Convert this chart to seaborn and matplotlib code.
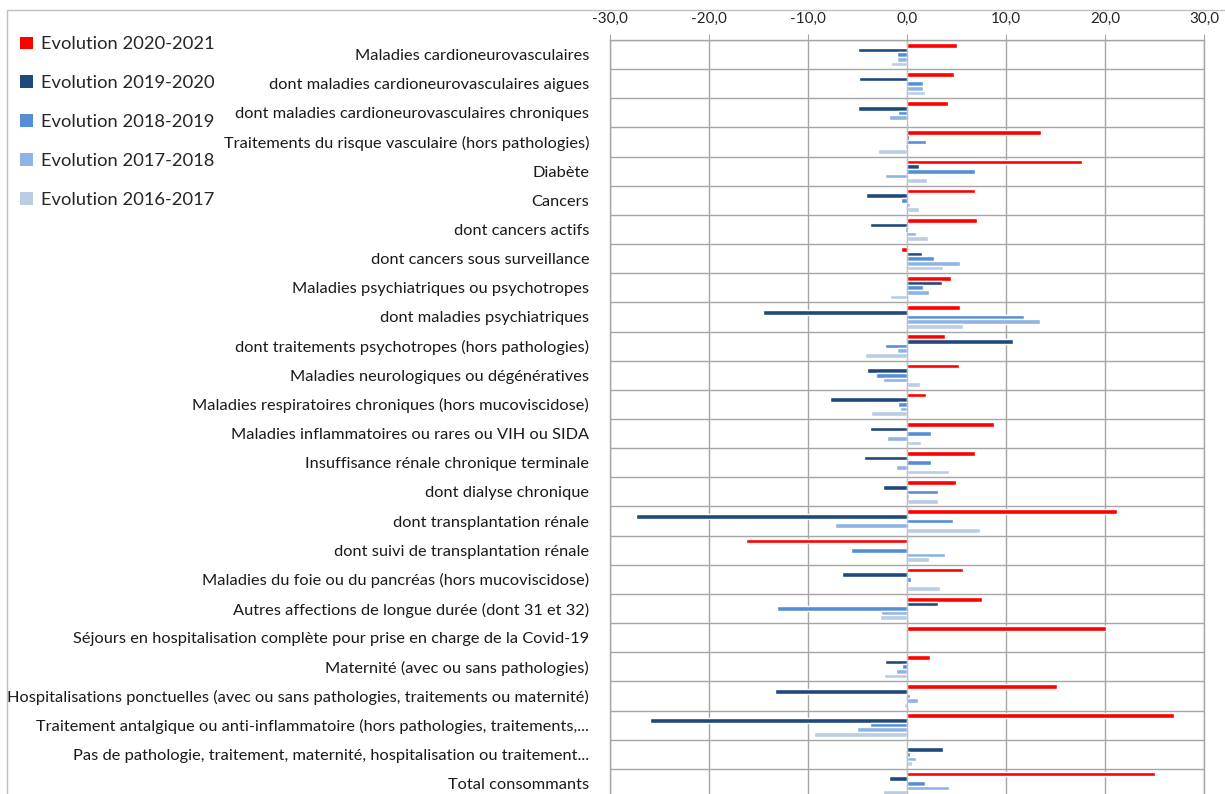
import numpy as np
import pandas as pd
import seaborn as sns
import matplotlib.pyplot as plt
from matplotlib.patches import Rectangle, Patch

# Categories (top to bottom)
categories = [
    "Maladies cardioneurovasculaires",
    "dont maladies cardioneurovasculaires aigues",
    "dont maladies cardioneurovasculaires chroniques",
    "Traitements du risque vasculaire (hors pathologies)",
    "Diabète",
    "Cancers",
    "dont cancers actifs",
    "dont cancers sous surveillance",
    "Maladies psychiatriques ou psychotropes",
    "dont maladies psychiatriques",
    "dont traitements psychotropes (hors pathologies)",
    "Maladies neurologiques ou dégénératives",
    "Maladies respiratoires chroniques (hors mucoviscidose)",
    "Maladies inflammatoires ou rares ou VIH ou SIDA",
    "Insuffisance rénale chronique terminale",
    "dont dialyse chronique",
    "dont transplantation rénale",
    "dont suivi de transplantation rénale",
    "Maladies du foie ou du pancréas (hors mucoviscidose)",
    "Autres affections de longue durée (dont 31 et 32)",
    "Séjours en hospitalisation complète pour prise en charge de la Covid-19",
    "Maternité (avec ou sans pathologies)",
    "Hospitalisations ponctuelles (avec ou sans pathologies, traitements ou maternité)",
    "Traitement antalgique ou anti-inflammatoire (hors pathologies, traitements,...",
    "Pas de pathologie, traitement, maternité, hospitalisation ou traitement...",
    "Total consommants",
]

series = ["Evolution 2020-2021", "Evolution 2019-2020", "Evolution 2018-2019",
          "Evolution 2017-2018", "Evolution 2016-2017"]

evol_2020_2021 = [5.1, 4.7, 4.1, 13.5, 17.7, 6.9, 7.1, -0.6, 4.4, 5.4, 3.8, 5.3, 1.9,
                  8.8, 6.9, 4.9, 21.2, -16.3, 5.7, 7.6, 20.1, 2.3, 15.2, 27.0, 0.0, 25.0]
evol_2019_2020 = [-4.9, -4.8, -4.9, 0.2, 1.2, -4.1, -3.7, 1.5, 3.5, -14.5, 10.7, -4.0, -7.8,
                  -3.7, -4.3, -2.4, -27.4, 0.0, -6.6, 3.1, np.nan, -2.2, -13.3, -26.0, 3.6, -1.8]
evol_2018_2019 = [-1.0, 1.6, -0.9, 1.9, 6.9, -0.6, -0.2, 2.7, 1.6, 11.8, -2.2, -3.1, -0.9,
                  2.4, 2.4, 3.1, 4.6, -5.7, 0.4, -13.1, np.nan, -0.5, 0.3, -3.7, 0.3, 1.8]
evol_2017_2018 = [-1.0, 1.6, -1.8, -0.2, -2.2, 0.3, 0.9, 5.4, 2.2, 13.4, -1.0, -2.4, -0.7,
                  -2.0, -1.1, 0.2, -7.3, 3.8, 0.0, -2.6, np.nan, -1.1, 1.1, -5.1, 0.9, 4.2]
evol_2016_2017 = [-1.6, 1.8, -0.1, -2.9, 2.0, 1.2, 2.1, 3.6, -1.7, 5.7, -4.2, 1.3, -3.6,
                  1.4, 4.2, 3.1, 7.4, 2.2, 3.3, -2.7, np.nan, -2.3, -0.3, -9.4, 0.5, -2.4]

colors = ["#FF0000", "#1F497D", "#558ED5", "#8EB4E3", "#B9CDE5"]

values = [evol_2020_2021, evol_2019_2020, evol_2018_2019, evol_2017_2018, evol_2016_2017]
rows = []
for name, vals in zip(series, values):
    for cat, v in zip(categories, vals):
        rows.append({"categorie": cat, "serie": name, "valeur": v})
df = pd.DataFrame(rows)

sns.set_style("white")
plt.rcParams['font.family'] = ['Lato', 'DejaVu Sans']

fig = plt.figure(figsize=(12.25, 7.94), dpi=100)
ax = fig.add_axes([610 / 1225, -4 / 794, (1204 - 610) / 1225, 758 / 794])

sns.barplot(data=df, y="categorie", x="valeur", hue="serie", order=categories,
            hue_order=series, palette=colors, orient="h", width=0.8,
            errorbar=None, legend=False, saturation=1, ax=ax)

ax.set_xlim(-30, 30)
ax.set_ylim(len(categories) - 0.5, -0.5)
ax.xaxis.tick_top()
ticks = list(range(-30, 31, 10))
ax.set_xticks(ticks)
ax.set_xticklabels([f"{t:.1f}".replace(".", ",") for t in ticks], fontsize=11, color="#262626")
ax.tick_params(axis="x", length=4, color="#A6A6A6", pad=6)
ax.tick_params(axis="y", length=0, pad=15, labelsize=11.8, labelcolor="#1A1A1A")
ax.set_xlabel("")
ax.set_ylabel("")

# grid: vertical lines at ticks, horizontal separators between categories
ax.set_yticks(np.arange(-0.5, len(categories), 1), minor=True)
ax.grid(axis="x", color="#A6A6A6", linewidth=1)
ax.grid(axis="y", which="minor", color="#A6A6A6", linewidth=1)
ax.set_axisbelow(True)
for s in ax.spines.values():
    s.set_color("#A6A6A6")
    s.set_linewidth(1)
ax.axvline(0, color="#BFBFBF", linewidth=0.8, zorder=1)

# chart frame
fig.patches.append(Rectangle((7 / 1225, -0.1), 1.2, 1 - 10 / 794 + 0.1,
                             transform=fig.transFigure, fill=False,
                             edgecolor="#BFBFBF", linewidth=1))

handles = [Patch(facecolor=c, edgecolor="none") for c in colors]
fig.legend(handles, series, loc="upper left", bbox_to_anchor=(0.003, 0.975),
           frameon=False, fontsize=13.2, handlelength=0.7, handleheight=0.7,
           handletextpad=0.45, labelspacing=1.25)

fig.savefig("out.png", dpi=100)
